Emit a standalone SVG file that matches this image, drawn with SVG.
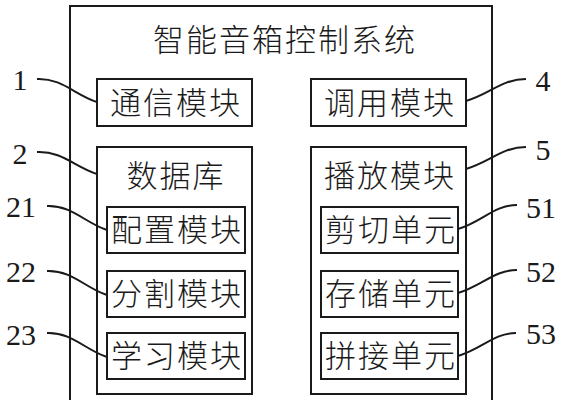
<svg xmlns="http://www.w3.org/2000/svg" width="563" height="400" viewBox="0 0 563 400">
<style>
.box{fill:#fff;stroke:#1a1a1a;stroke-width:2}
.cn{font-family:"Noto Sans CJK SC","Noto Sans",sans-serif;font-size:31px;font-weight:300;fill:#1a1a1a;text-anchor:middle;letter-spacing:2px}
.num{font-family:"Liberation Serif","DejaVu Serif",serif;font-size:30px;fill:#1a1a1a;text-anchor:middle}
.lead{fill:none;stroke:#1a1a1a;stroke-width:2}
</style>
<rect width="563" height="400" fill="#fff"/>
<g id="system">
<rect class="box" x="70" y="6" width="422" height="410"/>
<text class="cn" x="285" y="51" style="font-size:31px">智能音箱控制系统</text>
</g>
<g id="comm">
<rect class="box" x="97" y="79" width="155" height="47"/>
<text class="cn" x="176" y="114">通信模块</text>
</g>
<g id="call">
<rect class="box" x="311" y="79" width="155" height="47"/>
<text class="cn" x="390" y="114">调用模块</text>
</g>
<g id="db">
<rect class="box" x="97" y="147" width="155" height="247"/>
<text class="cn" x="176" y="187">数据库</text>
</g>
<g id="play">
<rect class="box" x="311" y="147" width="155" height="247"/>
<text class="cn" x="390" y="187">播放模块</text>
</g>
<g id="config">
<rect class="box" x="107" y="207" width="138" height="46"/>
<text class="cn" x="177" y="241">配置模块</text>
</g>
<g id="split">
<rect class="box" x="107" y="271" width="138" height="46"/>
<text class="cn" x="177" y="305">分割模块</text>
</g>
<g id="learn">
<rect class="box" x="107" y="333" width="138" height="46"/>
<text class="cn" x="177" y="367">学习模块</text>
</g>
<g id="cut">
<rect class="box" x="321" y="207" width="137" height="46"/>
<text class="cn" x="391" y="241">剪切单元</text>
</g>
<g id="store">
<rect class="box" x="321" y="271" width="137" height="46"/>
<text class="cn" x="391" y="305">存储单元</text>
</g>
<g id="join">
<rect class="box" x="321" y="333" width="137" height="46"/>
<text class="cn" x="391" y="367">拼接单元</text>
</g>
<g id="connectors">
<path class="lead" d="M37,79 C62,78 75,95 97,102"/>
<path class="lead" d="M37,152 C62,151 75,167 97,174"/>
<path class="lead" d="M47,206 C72,205 85,223 107,230"/>
<path class="lead" d="M47,271 C72,270 85,288 107,295"/>
<path class="lead" d="M47,333 C72,332 85,350 107,357"/>
<path class="lead" d="M466,101 C490,94 502,79 526,79"/>
<path class="lead" d="M466,169 C490,162 502,147 526,147"/>
<path class="lead" d="M458,229 C482,222 494,205 517,205"/>
<path class="lead" d="M458,293 C482,286 494,270 517,270"/>
<path class="lead" d="M458,356 C482,349 494,333 516,333"/>
</g>
<g id="labels">
<text class="num" x="20" y="90">1</text>
<text class="num" x="20" y="164">2</text>
<text class="num" x="21" y="217">21</text>
<text class="num" x="21" y="282">22</text>
<text class="num" x="21" y="345">23</text>
<text class="num" x="543" y="91">4</text>
<text class="num" x="543" y="160">5</text>
<text class="num" x="541" y="218">51</text>
<text class="num" x="541" y="282">52</text>
<text class="num" x="541" y="344">53</text>
</g>
</svg>
